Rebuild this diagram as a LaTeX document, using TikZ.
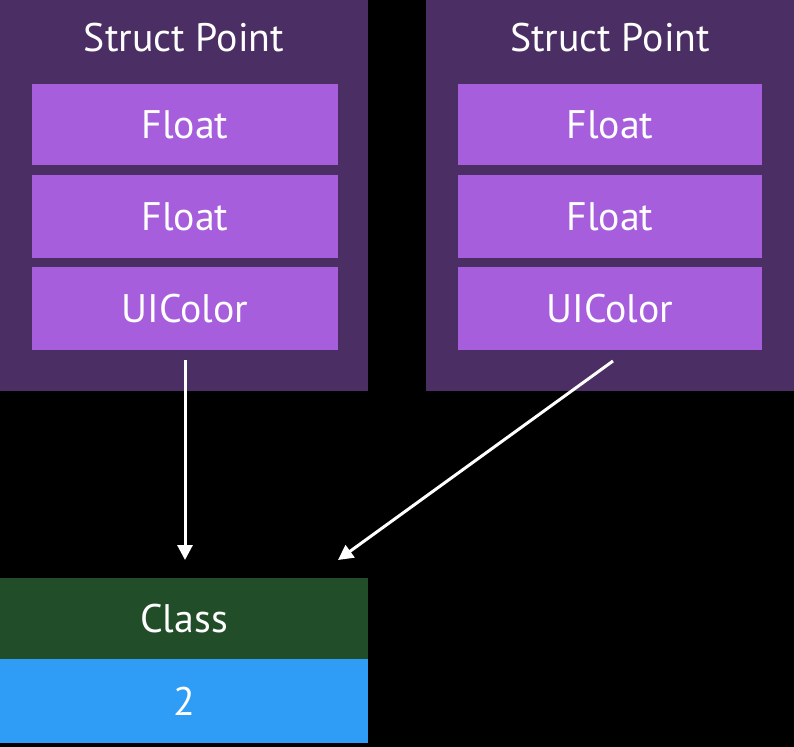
\documentclass[tikz,border=0pt]{standalone}
\usepackage{fontspec}
\setmainfont{PT Sans}
\usetikzlibrary{arrows.meta}
\definecolor{outerp}{HTML}{4B2E63}
\definecolor{innerp}{HTML}{A65EDC}
\definecolor{clsgreen}{HTML}{224D29}
\definecolor{clsblue}{HTML}{2F9DF5}
\tikzset{
  box/.style={draw=none, inner sep=0pt, outer sep=0pt, font=\fontsize{40}{44}\selectfont, text=white},
  conn/.style={draw=white, line width=3bp, -{Triangle[width=15bp,length=15bp]}},
}
\begin{document}
\begin{tikzpicture}[x=1bp,y=-1bp]
\fill[black] (0,0) rectangle (794,747);
\useasboundingbox (0,0) rectangle (794,747);
% left struct
\fill[outerp] (0,0) rectangle (368,391);
\node[box] (lt) at (184,38) {Struct Point};
\fill[innerp] (32,84) rectangle (338,165);
\node[box] (lf1) at (185,124.5) {Float};
\fill[innerp] (32,175) rectangle (338,258);
\node[box] (lf2) at (185,216.5) {Float};
\fill[innerp] (32,267) rectangle (338,350);
\node[box] (lc) at (185,308.5) {UIColor};
% right struct
\fill[outerp] (426,0) rectangle (794,391);
\node[box] (rt) at (610,38) {Struct Point};
\fill[innerp] (458,84) rectangle (762,165);
\node[box] (rf1) at (610,124.5) {Float};
\fill[innerp] (458,175) rectangle (762,258);
\node[box] (rf2) at (610,216.5) {Float};
\fill[innerp] (458,267) rectangle (762,350);
\node[box] (rc) at (610,308.5) {UIColor};
% class
\fill[clsgreen] (0,578) rectangle (368,659);
\node[box] (cls) at (184,618.5) {Class};
\fill[clsblue] (0,659) rectangle (368,743);
\node[box] (cnt) at (184,701) {2};
\coordinate (a1s) at (185,360);
\coordinate (a1e) at (185,560);
\coordinate (a2s) at (613,361);
\coordinate (a2e) at (338,560);
\draw[conn] (a1s) -- (a1e);
\draw[conn] (a2s) -- (a2e);
\end{tikzpicture}
\end{document}
